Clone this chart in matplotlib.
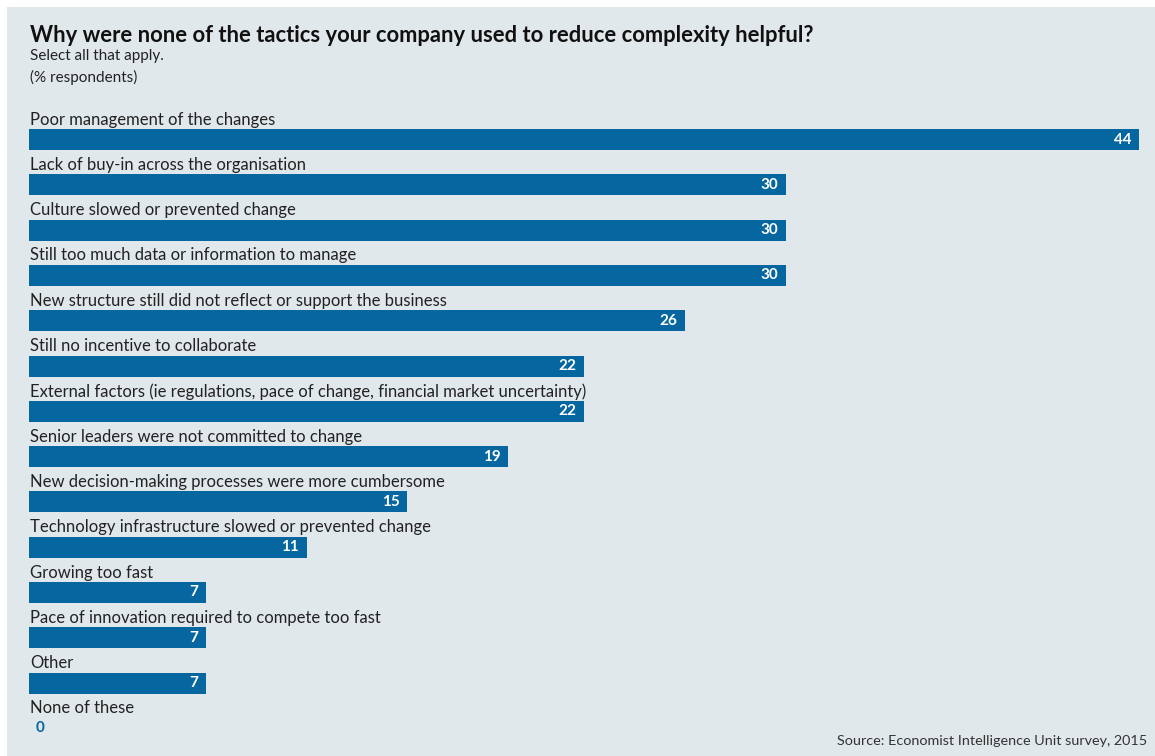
import matplotlib.pyplot as plt
from matplotlib.patches import Rectangle

plt.rcParams['font.family'] = ['Lato', 'DejaVu Sans']

labels = [
    "Poor management of the changes",
    "Lack of buy-in across the organisation",
    "Culture slowed or prevented change",
    "Still too much data or information to manage",
    "New structure still did not reflect or support the business",
    "Still no incentive to collaborate",
    "External factors (ie regulations, pace of change, financial market uncertainty)",
    "Senior leaders were not committed to change",
    "New decision-making processes were more cumbersome",
    "Technology infrastructure slowed or prevented change",
    "Growing too fast",
    "Pace of innovation required to compete too fast",
    "Other",
    "None of these",
]
values = [44, 30, 30, 30, 26, 22, 22, 19, 15, 11, 7, 7, 7, 0]

BAR = "#0566a0"
BG = "#e1e8eb"
W, H = 1155, 756

fig = plt.figure(figsize=(W / 100, H / 100), dpi=100)
fig.patch.set_facecolor("white")
fig.patches.append(Rectangle((7 / W, 0), 1 - 7 / W, 1 - 7 / H,
                             transform=fig.transFigure, facecolor=BG,
                             edgecolor="none", zorder=-5))

# axes spans full height; y in row units, row 0 centred at pixel 139.5
row = 45.3
y0 = 139.5
ax = fig.add_axes([29 / W, 0, 1110 / W, 1])
ax.set_zorder(2)
ax.set_facecolor("none")
ax.set_xlim(0, 44)
ax.set_ylim((H - y0) / row, -y0 / row)
ax.axis("off")

pos = list(range(len(values)))
ax.barh(pos, values, height=21 / row, color=BAR, zorder=2)

for i, (lab, v) in enumerate(zip(labels, values)):
    ax.text(0.05, i - 0.44, lab, ha="left", va="center", fontsize=12,
            color="#222222")
    if v > 0:
        ax.text(v - 0.3, i, str(v), ha="right", va="center", fontsize=11,
                color="white", fontweight="bold", zorder=3)
    else:
        ax.text(0.25, i, str(v), ha="left", va="center", fontsize=11,
                color=BAR, fontweight="bold", zorder=3)

fig.text(30 / W, 1 - 35 / H,
         "Why were none of the tactics your company used to reduce complexity helpful?",
         ha="left", va="center", fontsize=15.8, fontweight="bold", color="#111111")
fig.text(30 / W, 1 - 56 / H, "Select all that apply.", ha="left", va="center",
         fontsize=11, color="#222222")
fig.text(30 / W, 1 - 77 / H, "(% respondents)", ha="left", va="center",
         fontsize=11, color="#222222")
fig.text(1147 / W, 1 - 741 / H, "Source: Economist Intelligence Unit survey, 2015",
         ha="right", va="center", fontsize=10.4, color="#333333")

fig.savefig("out.png", dpi=100)
